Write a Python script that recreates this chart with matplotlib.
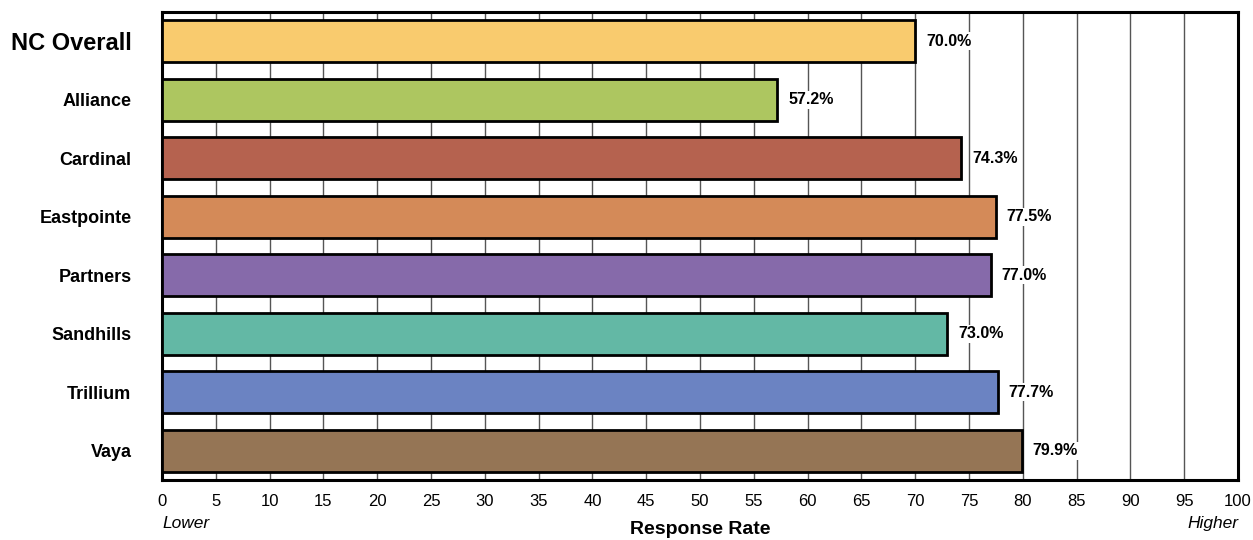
import numpy as np
import matplotlib.pyplot as plt

plt.rcParams['font.family'] = ['Liberation Sans', 'DejaVu Sans']

categories = ["NC Overall", "Alliance", "Cardinal", "Eastpointe", "Partners",
              "Sandhills", "Trillium", "Vaya"]
rates = [70.0, 57.2, 74.3, 77.5, 77.0, 73.0, 77.7, 79.9]
colors = ["#F9CB6E", "#ADC660", "#B5624F", "#D48A58", "#866AAA",
          "#63B8A5", "#6B83C2", "#957555"]
xticks = list(range(0, 101, 5))

fig = plt.figure(figsize=(12.53, 5.40), dpi=100)
ax = fig.add_axes([162/1253, 60/540, (1238-162)/1253, (480-12)/540])

y = np.arange(len(categories))
ax.barh(y, rates, height=0.71, color=colors, edgecolor='black', linewidth=2, zorder=3)

for i, v in enumerate(rates):
    ax.text(v + 1.0, i, f"{v:.1f}%", va='center', ha='left', fontsize=11.5,
            fontweight='bold', zorder=4,
            bbox=dict(facecolor='white', edgecolor='none', pad=1))

ax.set_ylim(len(categories) - 0.5, -0.5)
ax.set_xlim(0, 100)
ax.set_xticks(xticks)
ax.set_xticklabels([str(t) for t in xticks], fontsize=12)
ax.set_yticks(y)
ax.set_yticklabels(categories, fontsize=13, fontweight='bold')
ax.get_yticklabels()[0].set_fontsize(17)
ax.tick_params(length=0)
ax.tick_params(axis='x', pad=10)
ax.tick_params(axis='y', pad=22)
ax.grid(axis='x', color='#555555', linewidth=1, zorder=0)
for s in ax.spines.values():
    s.set_linewidth(2.2)

# axis title and the Lower / Higher hints under the ticks
fig.text((162 + 1238) / 2 / 1253, 1 - 530/540, "Response Rate", fontsize=14,
         fontweight='bold', ha='center', va='center')
ax.text(0, -0.092, "Lower", transform=ax.transAxes, fontsize=12.5, style='italic', va='center', ha='left')
ax.text(1, -0.092, "Higher", transform=ax.transAxes, fontsize=12.5, style='italic', va='center', ha='right')

fig.savefig("out.png", dpi=100)
